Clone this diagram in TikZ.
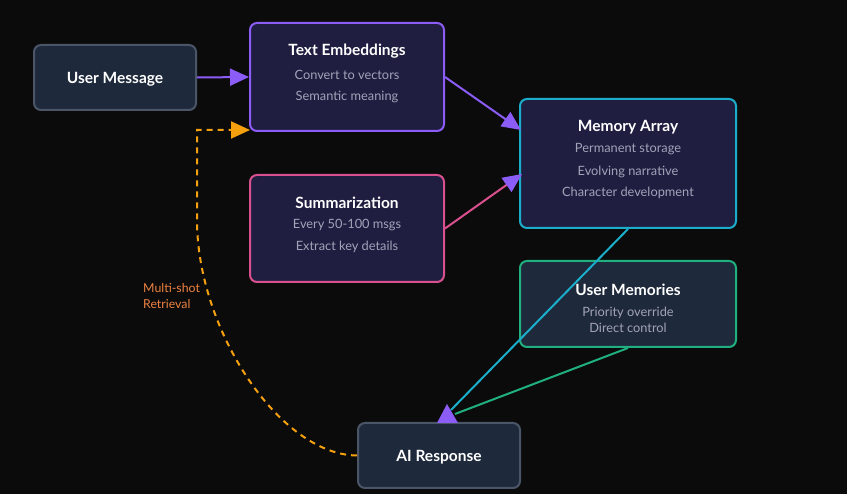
\documentclass[tikz,border=0pt]{standalone}
\usepackage{fontspec}
\setmainfont{Lato}
\usetikzlibrary{arrows.meta}
\definecolor{bgc}{HTML}{0B0B0B}
\definecolor{slatefill}{HTML}{1E293B}
\definecolor{slateedge}{HTML}{4B5568}
\definecolor{indfill}{HTML}{1F1D40}
\definecolor{purp}{HTML}{8B5CF6}
\definecolor{pinkc}{HTML}{D9508F}
\definecolor{cyanc}{HTML}{1AAECB}
\definecolor{greenc}{HTML}{20B07F}
\definecolor{amberc}{HTML}{F5A00F}
\definecolor{orangetxt}{HTML}{EE8240}
\definecolor{subc}{HTML}{A3A3B8}
\tikzset{
  box/.style={draw, line width=2pt, rounded corners=7pt, inner sep=0pt},
  ttl/.style={text=white, font=\fontsize{15.5}{17}\selectfont\bfseries, inner sep=0pt},
  sub/.style={text=subc, font=\fontsize{12.8}{14}\selectfont, inner sep=0pt},
  conn/.style={line width=2pt},
  tip/.style={-{Triangle[length=19pt,width=17pt,color=purp]}},
}
\begin{document}
\begin{tikzpicture}[x=1pt,y=-1pt]
\fill[bgc] (0,0) rectangle (847,494);
\useasboundingbox (0,0) rectangle (847,494);

% boxes
\node[box, draw=slateedge, fill=slatefill, minimum width=162pt, minimum height=65pt] (um) at (115,77.5) {};
\node[box, draw=purp, fill=indfill, minimum width=194pt, minimum height=108pt] (te) at (347,77) {};
\node[box, draw=pinkc, fill=indfill, minimum width=194pt, minimum height=107pt] (su) at (347,228.5) {};
\node[box, draw=cyanc, fill=indfill, minimum width=216pt, minimum height=129pt] (ma) at (628,163.5) {};
\node[box, draw=greenc, fill=slatefill, minimum width=216pt, minimum height=86pt] (umem) at (628,304) {};
\node[box, draw=slateedge, fill=slatefill, minimum width=162pt, minimum height=65pt] (ai) at (439,455.5) {};

% texts
\node[ttl] (umT) at (115,79) {User Message};
\node[ttl] (teT) at (347,51.5) {Text Embeddings};
\node[sub] (te1) at (347,74.5) {Convert to vectors};
\node[sub] (te2) at (347,96.5) {Semantic meaning};
\node[ttl] (suT) at (347,202.5) {Summarization};
\node[sub] (su1) at (347,225.5) {Every 50-100 msgs};
\node[sub] (su2) at (347,246.5) {Extract key details};
\node[ttl] (maT) at (628,127.5) {Memory Array};
\node[sub] (ma1) at (628,149.5) {Permanent storage};
\node[sub] (ma2) at (628,171.5) {Evolving narrative};
\node[sub] (ma3) at (628,192.5) {Character development};
\node[ttl] (umemT) at (628,289.5) {User Memories};
\node[sub] (umem1) at (628,312.5) {Priority override};
\node[sub] (umem2) at (628,327.5) {Direct control};
\node[ttl] (aiT) at (439,457.5) {AI Response};
\node[text=orangetxt, font=\fontsize{12.3}{16}\selectfont, align=left, anchor=north west, inner sep=0pt] (lbl) at (143,283.5) {Multi-shot\\Retrieval};

% connectors
\draw[conn, purp, tip] (um.east) -- (te.west);
\coordinate (maIn1) at (521,130);
\coordinate (maIn2) at (522,174);
\draw[conn, purp, tip] (te.east) -- (maIn1);
\draw[conn, pinkc, tip] (su.east) -- (maIn2);

\coordinate (aiA) at (451,410);
\coordinate (aiB) at (455,414);
\draw[conn, cyanc] (ma.south) -- (aiA);
\draw[conn, greenc] (umem.south) -- (aiB);
\coordinate (t1) at (437,423);
\coordinate (t2) at (458,423);
\coordinate (t3) at (447,404);
\fill[purp] (t1) -- (t2) -- (t3) -- cycle;

% dashed retrieval
\coordinate (teIn) at (250,130);
\coordinate (bend) at (197,130);
\draw[conn, amberc, dash pattern=on 6pt off 5pt, -{Triangle[length=19pt,width=17pt]}]
  (ai.west) .. controls (280,455) and (197,330) .. (197,220) -- (bend) -- (teIn);
\end{tikzpicture}
\end{document}
